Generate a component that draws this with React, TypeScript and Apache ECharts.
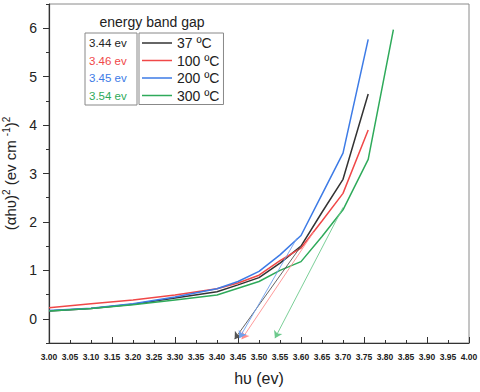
import React, { useEffect, useRef } from 'react';
import * as echarts from 'echarts';

// photon energy (eV)
const hv = [3.0, 3.1, 3.2, 3.3, 3.4, 3.45, 3.5, 3.55, 3.6, 3.65, 3.7, 3.76, 3.82];
// (αhυ)² values per annealing temperature
const y37 = [0.16, 0.21, 0.30, 0.43, 0.56, 0.70, 0.85, 1.15, 1.50, 2.20, 2.88, 4.64, null];
const y100 = [0.23, 0.31, 0.39, 0.49, 0.62, 0.74, 0.90, 1.20, 1.46, 2.02, 2.59, 3.90, null];
const y200 = [0.17, 0.22, 0.31, 0.45, 0.62, 0.77, 0.98, 1.32, 1.72, 2.57, 3.42, 5.77, null];
const y300 = [0.16, 0.21, 0.29, 0.39, 0.49, 0.63, 0.77, 1.00, 1.18, 1.70, 2.25, 3.29, 5.97];

const seriesNames = ['37 ºC', '100 ºC', '200 ºC', '300 ºC'];
const bandGapLabels = ['3.44 ev', '3.46 ev', '3.45 ev', '3.54 ev'];
// tangent (extrapolation) lines: start point on curve, end point near axis
const tangentStartX = [3.6, 3.63, 3.59, 3.7];
const tangentStartY = [1.5, 1.79, 1.66, 2.3];
const tangentEndX = [3.442, 3.459, 3.453, 3.538];
const tangentEndY = [-0.42, -0.42, -0.4, -0.4];

const yTicks = [0, 1, 2, 3, 4, 5, 6];
const yMinorTicks = [-0.5, 0.5, 1.5, 2.5, 3.5, 4.5, 5.5, 6.5];

const colors = ['#333333', '#f04848', '#3d7be6', '#2eaa5a'];
const tangentColors = ['#555555', '#ff8f8f', '#6f9fec', '#6cc98c'];
const FONT = 'Liberation Sans, Arial, sans-serif';

export default function App() {
  const ref = useRef<HTMLDivElement>(null);
  useEffect(() => {
    if (!ref.current) return;
    const chart = echarts.init(ref.current, undefined, { renderer: 'svg' });
    const allY = [y37, y100, y200, y300];
    const series = allY.map((ys, i) => ({
      name: seriesNames[i],
      type: 'line',
      data: hv.map((x, k) => [x, ys[k]]).filter((p) => p[1] !== null),
      symbol: 'none',
      showSymbol: false,
      lineStyle: { color: colors[i], width: 1.5 },
      itemStyle: { color: colors[i] },
      markLine: {
        silent: true,
        symbol: ['none', 'arrow'],
        symbolSize: 7,
        label: { show: false },
        lineStyle: { color: tangentColors[i], width: 0.9, type: 'solid' },
        data: [
          [
            { coord: [tangentStartX[i], tangentStartY[i]] },
            { coord: [tangentEndX[i], tangentEndY[i]], itemStyle: { color: colors[i] } },
          ],
        ],
      },
    }));

    const option: any = {
      animation: false,
      textStyle: { fontFamily: FONT },
      grid: {
        left: 49,
        right: 11,
        top: 4,
        bottom: 49,
        containLabel: false,
        outerBoundsMode: 'none',
        show: true,
        borderColor: '#8a8a8a',
        borderWidth: 1,
      },
      legend: {
        data: seriesNames,
        orient: 'vertical',
        left: 139,
        top: 33,
        icon: 'path://M0,0 H30 V1.5 H0 Z',
        itemWidth: 30,
        itemHeight: 14,
        itemGap: 3.5,
        padding: [3, 4, 2, 3],
        borderColor: '#888',
        borderWidth: 1,
        textStyle: { fontSize: 14, color: '#222', fontFamily: FONT },
      },
      xAxis: [
        {
          type: 'value',
          min: 3,
          max: 4,
          interval: 0.05,
          name: 'hυ (ev)',
          nameLocation: 'middle',
          nameGap: 27,
          nameTextStyle: { fontSize: 16, color: '#222', fontFamily: FONT },
          axisLine: { show: true, onZero: false, lineStyle: { color: '#333', width: 1.2 } },
          axisTick: { show: true, inside: true, length: 3, lineStyle: { color: '#333' } },
          axisLabel: {
            formatter: (v: number) => v.toFixed(2),
            fontSize: 8.5,
            fontWeight: 'bold',
            color: '#222',
            margin: 9,
            fontFamily: FONT,
          },
          splitLine: { show: false },
        },
        {
          type: 'value',
          min: 3,
          max: 4,
          interval: 0.15,
          position: 'bottom',
          axisLine: { show: false, onZero: false },
          axisTick: { show: true, inside: true, length: 6, lineStyle: { color: '#333' } },
          axisLabel: { show: false },
          splitLine: { show: false },
        },
      ],
      yAxis: [
        {
          type: 'value',
          min: -0.5,
          max: 6.5,
          name: '{n|(αhυ)}{s|2}{n| (ev cm }{s|-1}{n|)}{s|2}',
          nameLocation: 'middle',
          nameGap: 23,
          nameTextStyle: {
            fontSize: 15,
            color: '#222',
            fontFamily: FONT,
            rich: {
              n: { fontSize: 15, lineHeight: 17, color: '#222', fontFamily: FONT, verticalAlign: 'bottom' },
              s: { fontSize: 10, lineHeight: 17, color: '#222', fontFamily: FONT, verticalAlign: 'top' },
            },
          },
          axisLine: { show: true, onZero: false, lineStyle: { color: '#333', width: 1.2 } },
          axisTick: { show: true, length: 6, customValues: yTicks, lineStyle: { color: '#333' } },
          axisLabel: { customValues: yTicks, fontSize: 14, color: '#222', margin: 12, fontFamily: FONT },
          splitLine: { show: false },
        },
        {
          type: 'value',
          min: -0.5,
          max: 6.5,
          position: 'left',
          axisLine: { show: false, onZero: false },
          axisTick: { show: true, length: 3, customValues: yMinorTicks, lineStyle: { color: '#333' } },
          axisLabel: { show: false },
          splitLine: { show: false },
        },
      ],
      graphic: [
        {
          type: 'text',
          x: 152,
          y: 22,
          style: {
            text: 'energy band gap',
            align: 'center',
            verticalAlign: 'middle',
            fontSize: 14,
            fill: '#222',
            fontFamily: FONT,
          },
        },
        {
          type: 'rect',
          shape: { x: 85, y: 33, width: 52, height: 72 },
          style: { fill: 'none', stroke: '#888', lineWidth: 1 },
        },
        ...bandGapLabels.map((t, i) => ({
          type: 'text',
          x: 89,
          y: 43 + i * 17.5,
          style: {
            text: t,
            align: 'left',
            verticalAlign: 'middle',
            fontSize: 11.5,
            fill: i === 0 ? '#222' : colors[i],
            fontFamily: FONT,
          },
        })),
      ],
      series,
    };
    chart.setOption(option);
    return () => chart.dispose();
  }, []);
  return (
    <div
      ref={ref}
      style={{ position: 'fixed', left: 0, top: 0, width: 480, height: 392, background: '#fff' }}
    />
  );
}
